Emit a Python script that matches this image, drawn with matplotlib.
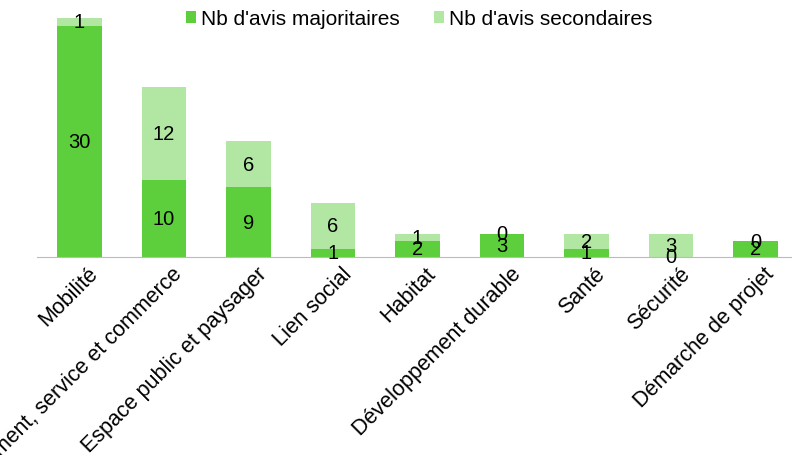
import numpy as np
import matplotlib.pyplot as plt
import matplotlib.transforms as mtransforms

plt.rcParams['font.family'] = ['Liberation Sans', 'DejaVu Sans']

categories = ["Mobilité", "Equipement, service et commerce", "Espace public et paysager",
              "Lien social", "Habitat", "Développement durable", "Santé", "Sécurité",
              "Démarche de projet"]
majoritaires = [30, 10, 9, 1, 2, 3, 1, 0, 2]
secondaires = [1, 12, 6, 6, 1, 0, 2, 3, 0]

dark = "#5ecf3c"
light = "#b2e6a3"

fig = plt.figure(figsize=(7.92, 4.56), dpi=100)
ax = fig.add_axes([0.047, 0.435, 0.955, 0.545])

x = np.arange(len(categories))
maj = np.array(majoritaires)
sec = np.array(secondaires)
ax.bar(x, maj, width=0.53, color=dark, label="Nb d'avis majoritaires")
ax.bar(x, sec, width=0.53, bottom=maj, color=light, label="Nb d'avis secondaires")

for i in range(len(x)):
    ax.text(x[i], maj[i] / 2, str(maj[i]), ha="center", va="center", fontsize=14.5)
    ax.text(x[i], maj[i] + sec[i] / 2, str(sec[i]), ha="center", va="center", fontsize=14.5)

ax.set_xlim(-0.5, len(x) - 0.55)
ax.set_ylim(0, 32.3)
ax.set_yticks([])
for s in ["top", "right", "left"]:
    ax.spines[s].set_visible(False)
ax.spines["bottom"].set_color("#bbbbbb")
ax.set_xticks(x)
ax.set_xticklabels(categories, rotation=45, ha="right", rotation_mode="anchor", fontsize=15.5)
ax.tick_params(axis="x", length=0, pad=3)
offset = mtransforms.ScaledTranslation(8 / 100, -2 / 100, fig.dpi_scale_trans)
for lbl in ax.get_xticklabels():
    lbl.set_transform(lbl.get_transform() + offset)

ax.legend(loc="upper center", bbox_to_anchor=(0.505, 1.07), ncol=2, frameon=False,
          fontsize=15, handlelength=0.5, handleheight=0.5, handletextpad=0.25,
          columnspacing=1.6)

fig.savefig("out.png")
